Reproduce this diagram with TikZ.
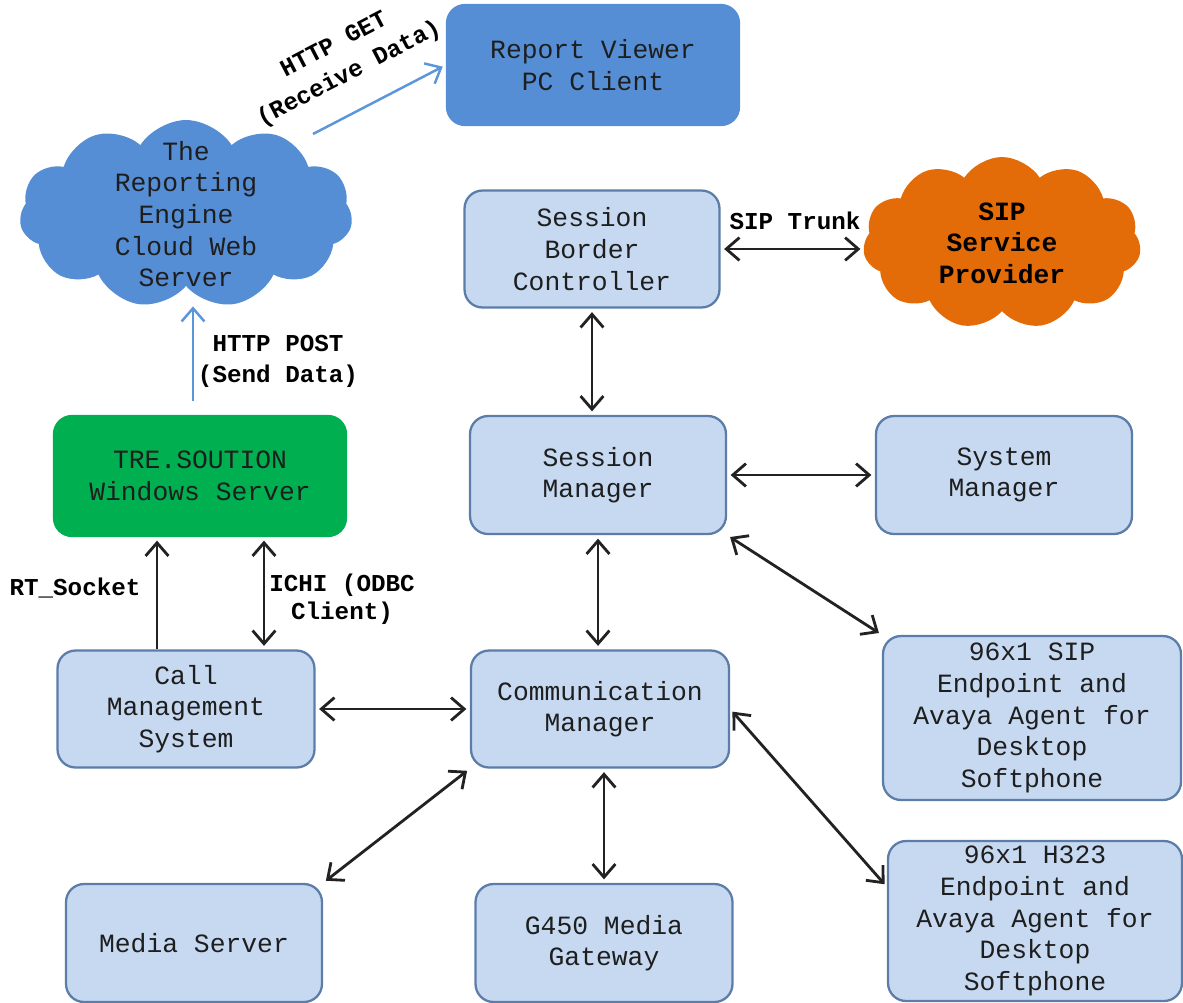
\documentclass[tikz,border=0pt]{standalone}
\usepackage{fontspec}
\setmainfont{Liberation Mono}
\usetikzlibrary{arrows.meta,shapes.symbols,calc}
\definecolor{boxfill}{HTML}{C6D9F1}
\definecolor{boxborder}{HTML}{5B7DA8}
\definecolor{midblue}{HTML}{558ED5}
\definecolor{arrowblue}{HTML}{5B96DA}
\definecolor{trgreen}{HTML}{00B050}
\definecolor{siporange}{HTML}{E36C09}
\definecolor{linec}{HTML}{222222}
\definecolor{textc}{HTML}{1E1E1E}
\begin{document}
\begin{tikzpicture}[x=0.02cm,y=-0.02cm,
  txt/.style={font=\fontsize{15}{18}\selectfont, text=textc, align=center},
  lbox/.style={txt, rectangle, rounded corners=0.36cm, draw=boxborder, fill=boxfill, line width=1.3pt, inner sep=2pt},
  dbox/.style={txt, rectangle, rounded corners=0.36cm, draw=midblue, fill=midblue, line width=1.3pt, inner sep=2pt},
  gbox/.style={txt, rectangle, rounded corners=0.36cm, draw=trgreen, fill=trgreen, line width=1.3pt, inner sep=2pt},
  cloudshape/.style={txt, cloud, cloud puffs=11, cloud puff arc=115, cloud ignores aspect, inner sep=0pt},
  lab/.style={font=\bfseries\fontsize{13.8}{17.6}\selectfont, text=black, align=center},
  tip/.tip={Straight Barb[length=7.5pt,width=13pt]},
  conn/.style={draw=linec, line width=1.6pt, {tip}-{tip}, shorten <=2pt, shorten >=2pt},
  oneway/.style={draw=linec, line width=1.6pt, -{tip}, shorten >=2pt},
  blueway/.style={draw=arrowblue, line width=1.4pt, -{tip}, shorten >=2pt}
]
\useasboundingbox (0,0) rectangle (1183,1002);

% Nodes
\node[dbox, minimum width=5.84cm, minimum height=2.4cm] (rv) at (593,65) {Report Viewer\\PC Client};
\node[cloudshape, fill=midblue, inner ysep=-16pt, inner xsep=-4pt, minimum width=6.66cm, minimum height=3.76cm] (rep) at (186,214) {The\\Reporting\\Engine\\Cloud Web\\Server};
\node[lbox, minimum width=5.1cm, minimum height=2.34cm] (sbc) at (592,249) {Session\\Border\\Controller};
\node[cloudshape, fill=siporange, font=\bfseries\fontsize{15}{18}\selectfont, text=black, minimum width=5.56cm, minimum height=3.44cm] (sip) at (1002,243) {SIP\\Service\\Provider};
\node[gbox, minimum width=5.84cm, minimum height=2.4cm] (tre) at (200,476) {TRE.SOUTION\\Windows Server};
\node[lbox, minimum width=5.12cm, minimum height=2.36cm] (sm) at (598,475) {Session\\Manager};
\node[lbox, minimum width=5.12cm, minimum height=2.36cm] (sysm) at (1004,475) {System\\Manager};
\node[lbox, minimum width=5.14cm, minimum height=2.34cm] (cms) at (186,709) {Call\\Management\\System};
\node[lbox, minimum width=5.16cm, minimum height=2.34cm] (cm) at (600,709) {Communication\\Manager};
\node[lbox, minimum width=5.96cm, minimum height=3.28cm] (sipep) at (1032,718) {96x1 SIP\\Endpoint and\\Avaya Agent for\\Desktop\\Softphone};
\node[lbox, minimum width=5.88cm, minimum height=3.2cm] (h323) at (1035,921) {96x1 H323\\Endpoint and\\Avaya Agent for\\Desktop\\Softphone};
\node[lbox, minimum width=5.12cm, minimum height=2.36cm] (ms) at (194,943) {Media Server};
\node[lbox, minimum width=5.14cm, minimum height=2.36cm] (g450) at (604,943) {G450 Media\\Gateway};

% Labels
\node[lab, rotate=27.5, font=\bfseries\fontsize{13.8}{18.5}\selectfont] (getlab) at (342,60) {HTTP GET\\(Receive Data)};
\node[lab] (postlab) at (278,361) {HTTP POST\\(Send Data)};
\node[lab] (rtlab) at (75,588) {RT\_Socket};
\node[lab, font=\bfseries\fontsize{13.8}{15.8}\selectfont] (ichilab) at (342,599) {ICHI (ODBC\\Client)};
\node[lab] (siplab) at (795,221) {SIP Trunk};

% Helper coordinates
\coordinate (rt) at ([xshift=-0.58cm]cms.north);
\coordinate (ichi) at ([xshift=1.56cm]cms.north);
\coordinate (post) at ([xshift=-0.14cm]tre.north);
\coordinate (repbot) at ([yshift=-0.4cm]rep.south);
\coordinate (h323in) at ([yshift=-0.94cm]h323.north west);
\coordinate (repout) at ($(rep.center)+(127,-80)$);

% Connectors
\draw[blueway] (repout) -- (rv.west);
\draw[blueway, shorten <=8pt, shorten >=0pt] (post) -- (post |- repbot);
\draw[oneway] (rt) -- (rt |- tre.south);
\draw[conn] (ichi |- tre.south) -- (ichi);
\draw[conn] (cms.east) -- (cm.west);
\draw[conn] (sbc.east) -- (sbc.east -| sip.west);
\draw[conn] (sbc.south) -- (sbc.south |- sm.north);
\draw[conn] (sm.east) -- (sysm.west);
\draw[conn] (sm.south) -- (sm.south |- cm.north);
\draw[conn] (sm.south east) -- (sipep.north west);
\draw[conn] (cm.east) -- (h323in);
\draw[conn] (cm.south west) -- (ms.north east);
\draw[conn] (g450.north |- cm.south) -- (g450.north);
\end{tikzpicture}
\end{document}
